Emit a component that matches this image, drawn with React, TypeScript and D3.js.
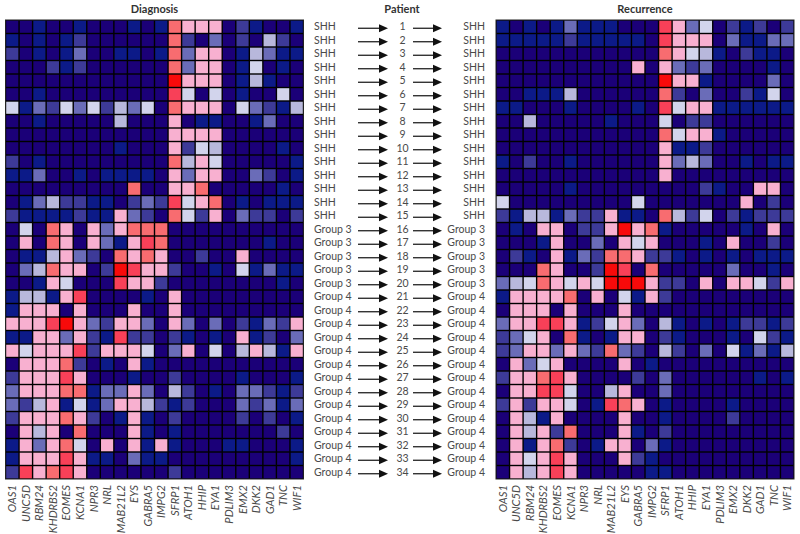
import React from "react";
import * as d3 from "d3";

const genes = ["OAS1","UNC5D","RBM24","KHDRBS2","EOMES","KCNA1","NPR3","NRL","MAB21L2","EYS","GABRA5","IMPG2","SFRP1","ATOH1","HHIP","EYA1","PDLIM3","EMX2","DKK2","GAD1","TNC","WIF1"];
const patients = d3.range(1, 35);
const groups = [...Array(15).fill("SHH"), ...Array(5).fill("Group 3"), ...Array(14).fill("Group 4")];

// Level of each cell, one character per gene, one string per patient
const diagnosis = [
"0010010001017666021001",
"1010120000007203020420",
"2010130011017366014311",
"0002120000007366015010",
"0000000000009666014100",
"0010000000008505010050",
"5132535243507666053214",
"0010000040006011001300",
"0000000000006666000000",
"0000000010006254000010",
"2010000000007465000001",
"1130010111106366003201",
"0000000007006670000010",
"0134221102328567010111",
"2111121163207526032202",
"0507606367770000000000",
"0607606316870000000100",
"0114632076760020060000",
"0347660298662001051311",
"0016500086620000000010",
"1441680000106000000000",
"1666060006006000000000",
"6668963266306303021326",
"1166362182202101061203",
"6566682666503605046416",
"0666720106100000000000",
"2666860001002000010001",
"3666771336304201033212",
"3246151366421200032313",
"2666762016102000020201",
"0646070006101000000020",
"1636750606161000110001",
"1666861103110000000001",
"2867860000002000000000",
];
const recurrence = [
"1010131110008635021202",
"1111121111108666031133",
"0000000000007654102110",
"0000000000606323000010",
"0000000000009661000030",
"0011140000007203002150",
"1100010000108566111111",
"0040000010005022000000",
"0000000000007566100000",
"0000000000006112000000",
"1020010000006343001011",
"0000000000006000000000",
"0000010000000002100660",
"5000000000500000006020",
"2144132261107425021222",
"0106602269671000001060",
"0001600306560001060020",
"0210613277622101010111",
"0007600298070000030010",
"3457656599962206066526",
"1666670605162000000000",
"0666060006000000000000",
"3668861256304101012212",
"2356071016602100010521",
"2366363273204203051314",
"0635600006010000000000",
"2667860000203000000101",
"0668850046003000000000",
"2626650187601000010000",
"0641600006001000020000",
"0646270006102000000000",
"0616720166031000000000",
"0656860006210000000000",
"0646860000011000000000",
];

const levels = d3.range(10);
const levelColors = ["#1b0078","#0c1a88","#3d3a98","#6a6cb8","#b8b8dc","#d2d4ec","#f8b0d0","#f86c70","#f84058","#f80a0a"];
const color = d3.scaleOrdinal<number, string>().domain(levels).range(levelColors);

const W = 800, H = 534;
const TOP = 20, BOTTOM = 479;
const y = d3.scaleBand<number>().domain(patients).range([TOP, BOTTOM]);
const xLeft = d3.scaleBand<string>().domain(genes).range([5.5, 303.5]);
const xRight = d3.scaleBand<string>().domain(genes).range([496, 794]);

const FONT = "Lato, 'Open Sans', sans-serif";
const INK = "#4a4a4a";

function Panel({ x, rows, title }: { x: d3.ScaleBand<string>; rows: string[]; title: string }) {
  const [x0, x1] = x.range();
  return (
    <g>
      <text x={(x0 + x1) / 2} y={13} textAnchor="middle" fontSize={11} fontWeight={700} fill="#333" fontFamily={FONT}>{title}</text>
      <rect x={x0} y={TOP} width={x1 - x0} height={BOTTOM - TOP} fill="#000" stroke="#222" strokeWidth={1} />
      {rows.map((row, r) =>
        genes.map((g, c) => (
          <rect key={g + r} x={x(g)! + 0.7} y={y(patients[r])! + 0.7} width={x.bandwidth() - 1.4} height={y.bandwidth() - 1.4}
            fill={color(+row[c])} />
        ))
      )}
      {genes.map((g) => {
        const cx = x(g)! + x.bandwidth() / 2;
        return (
          <text key={g} transform={`translate(${cx + 4},485) rotate(-90)`} textAnchor="end" fontSize={11.2} fontStyle="italic" fill={INK} fontFamily={FONT}>{g}</text>
        );
      })}
    </g>
  );
}

function Arrow({ x0, x1, yy }: { x0: number; x1: number; yy: number }) {
  return (
    <g>
      <line x1={x0} x2={x1 - 6} y1={yy} y2={yy} stroke="#111" strokeWidth={1.2} />
      <path d={d3.line()([[x1 - 9, yy - 4], [x1, yy], [x1 - 9, yy + 4]])! + "Z"} fill="#111" />
    </g>
  );
}

export default function App() {
  return (
    <svg width={W} height={H} viewBox={`0 0 ${W} ${H}`} style={{ position: "absolute", left: 0, top: 0, background: "#fff" }}>
      <Panel x={xLeft} rows={diagnosis} title="Diagnosis" />
      <Panel x={xRight} rows={recurrence} title="Recurrence" />
      <text x={402} y={13} textAnchor="middle" fontSize={11} fontWeight={700} fill="#333" fontFamily={FONT}>Patient</text>
      {patients.map((p, i) => {
        const cy = y(p)! + y.bandwidth() / 2;
        return (
          <g key={p} fontSize={10.5} fill={INK} fontFamily={FONT}>
            <text x={314} y={cy + 3.5}>{groups[i]}</text>
            <Arrow x0={358} x1={388} yy={cy + 1.5} />
            <text x={402.5} y={cy + 3.5} textAnchor="middle">{p}</text>
            <Arrow x0={413} x1={442} yy={cy + 1.5} />
            <text x={485} y={cy + 3.5} textAnchor="end">{groups[i]}</text>
          </g>
        );
      })}
    </svg>
  );
}
